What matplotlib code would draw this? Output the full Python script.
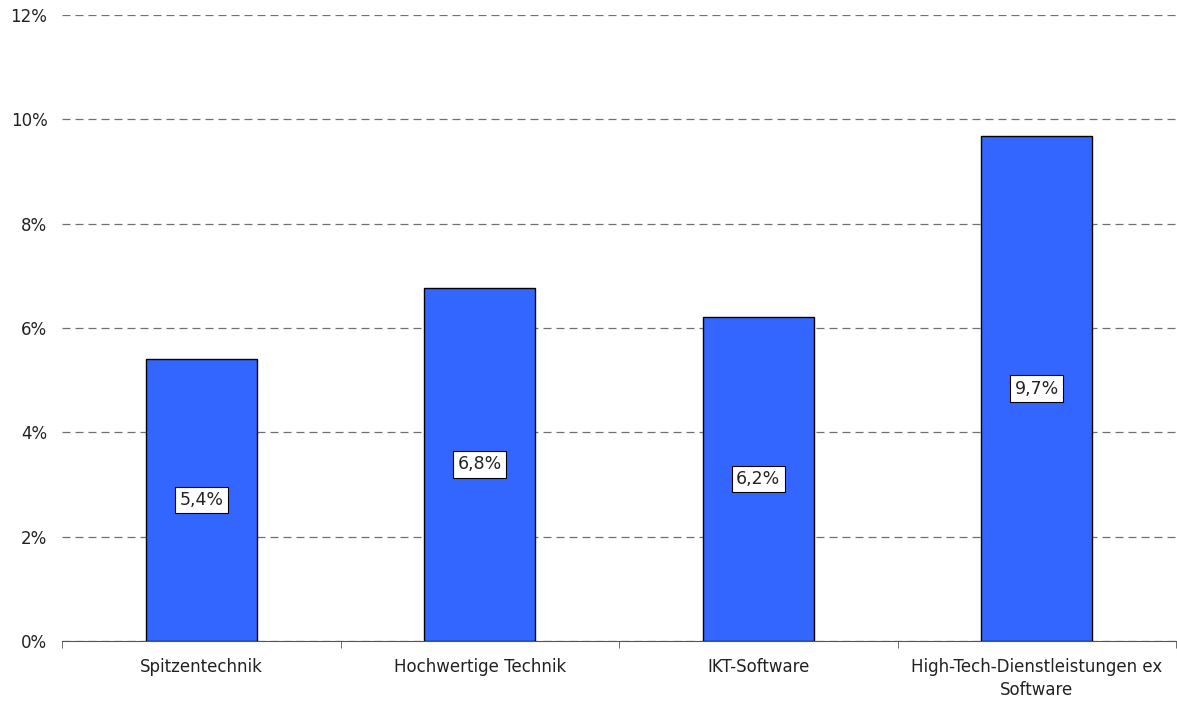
import matplotlib
matplotlib.use("Agg")
import matplotlib.pyplot as plt
import numpy as np
from matplotlib.ticker import FixedLocator

categories = ["Spitzentechnik", "Hochwertige Technik", "IKT-Software",
              "High-Tech-Dienstleistungen ex\nSoftware"]
values = [5.4, 6.77, 6.21, 9.68]
labels = ["5,4%", "6,8%", "6,2%", "9,7%"]
yticks = [0, 2, 4, 6, 8, 10, 12]

plt.rcParams['font.family'] = ['DejaVu Sans']
fig = plt.figure(figsize=(11.77, 7.07), dpi=100)
ax = fig.add_axes([62/1177, 66/707, 1114/1177, 626/707])

x = np.arange(len(categories))
ax.bar(x, values, width=0.4, color="#3366FF", edgecolor="black", linewidth=1, zorder=3)
for xi, v, lab in zip(x, values, labels):
    ax.text(xi, v/2, lab, ha="center", va="center", fontsize=12.5, zorder=4, color="#222222",
            bbox=dict(boxstyle="square,pad=0.25", facecolor="white", edgecolor="black", linewidth=0.8))

ax.set_xlim(-0.5, len(categories) - 0.5)
ax.set_ylim(0, 12)
ax.set_yticks(yticks)
ax.set_yticklabels([f"{t}%" for t in yticks], fontsize=12, color="#222222")
ax.yaxis.grid(True, linestyle=(0, (6.4, 4)), color="#707070", linewidth=0.9, zorder=0)
ax.tick_params(axis="y", length=0, pad=10.5)

ax.set_xticks(x)
ax.set_xticklabels(categories, fontsize=12, color="#222222", linespacing=1.4)
ax.tick_params(axis="x", which="major", length=0, pad=12)
ax.xaxis.set_minor_locator(FixedLocator(np.arange(-0.5, len(categories), 1.0)))
ax.tick_params(axis="x", which="minor", length=5, direction="out", color="#555555")

for s in ["top", "right", "left"]:
    ax.spines[s].set_visible(False)
ax.spines["bottom"].set_color("#555555")
ax.spines["bottom"].set_zorder(5)

fig.savefig("out.png", dpi=100)
